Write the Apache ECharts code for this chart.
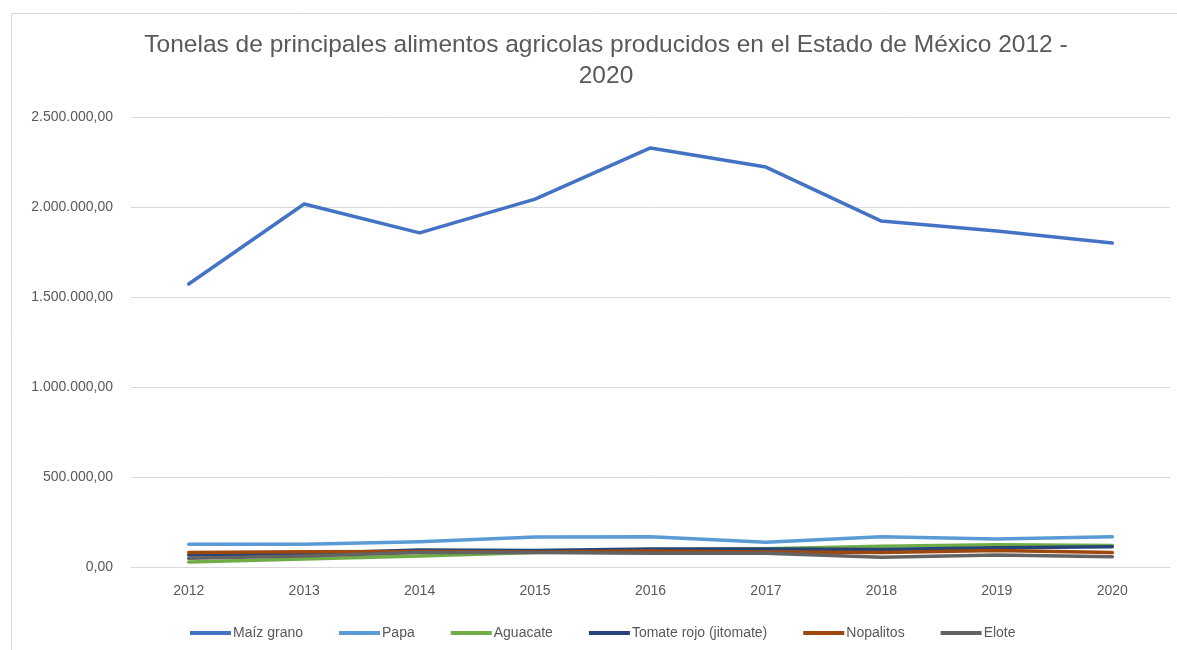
<!DOCTYPE html>
<html>
<head>
<meta charset="utf-8">
<script src="https://cdn.jsdelivr.net/npm/echarts@6/dist/echarts.min.js"></script>
<style>
html,body{margin:0;padding:0;background:#fff;}
#chart{width:1177px;height:650px;}
</style>
</head>
<body>
<div id="chart"></div>
<script>
const years = ['2012','2013','2014','2015','2016','2017','2018','2019','2020'];
const maizGrano = [1572000, 2017000, 1856000, 2044000, 2328000, 2222000, 1922000, 1867000, 1800000];
const papa      = [127000, 127000, 140000, 167000, 168000, 137000, 168000, 156000, 168000];
const aguacate  = [28000, 44000, 61000, 80000, 95000, 102000, 115000, 124000, 120000];
const tomate    = [67000, 75000, 94000, 91000, 100000, 100000, 97000, 107000, 113000];
const nopalitos = [81000, 85000, 86000, 84000, 89000, 84000, 80000, 91000, 80000];
const elote     = [48000, 61000, 81000, 81000, 76000, 76000, 54000, 67000, 57000];
const seriesNames = ['Maíz grano','Papa','Aguacate','Tomate rojo (jitomate)','Nopalitos','Elote'];
const seriesColors = ['#4472C4','#5B9BD5','#70AD47','#264478','#9E480E','#636363'];
const seriesData = [maizGrano, papa, aguacate, tomate, nopalitos, elote];
const yTicks = [0, 500000, 1000000, 1500000, 2000000, 2500000];

function fmt(v){
  const s = Math.round(v).toString().replace(/\B(?=(\d{3})+(?!\d))/g, '.');
  return s + ',00';
}

const chart = echarts.init(document.getElementById('chart'));
chart.setOption({
  backgroundColor:'#ffffff',
  animation:false,
  graphic:[{
    type:'rect', shape:{x:11.5, y:13.5, width:1300, height:800},
    style:{fill:'none', stroke:'#d9d9d9', lineWidth:1}, silent:true
  }],
  title:{
    text:'Tonelas de principales alimentos agricolas producidos en el Estado de México 2012 -\n2020',
    left:601, top:25, textAlign:'center',
    textStyle:{fontFamily:'Liberation Sans', fontSize:24.5, fontWeight:'normal', color:'#595959', lineHeight:31}
  },
  legend:{
    left:185, top:621,
    itemWidth:41, itemHeight:4, itemGap:36,
    icon:'rect',
    textStyle:{fontFamily:'Liberation Sans', fontSize:14, color:'#595959', padding:[0,0,0,-3]},
    data:seriesNames
  },
  grid:{left:131, right:7, top:117, bottom:83, containLabel:false},
  xAxis:{
    type:'category', data:years, boundaryGap:true,
    axisLine:{lineStyle:{color:'#d9d9d9', width:1}},
    axisTick:{show:false},
    axisLabel:{fontFamily:'Liberation Sans', fontSize:14, color:'#595959', margin:17}
  },
  yAxis:{
    type:'value', min:0, max:2500000, interval:500000,
    axisLine:{show:false}, axisTick:{show:false},
    splitLine:{lineStyle:{color:'#d9d9d9', width:1}},
    axisLabel:{fontFamily:'Liberation Sans', fontSize:14, color:'#595959', margin:18,
      formatter:function(v){ return fmt(v); }}
  },
  series: seriesNames.map((n,i)=>({
    name:n, type:'line', data:seriesData[i], symbol:'none',
    lineStyle:{color:seriesColors[i], width:3.5, cap:'round', join:'round'},
    itemStyle:{color:seriesColors[i]}
  }))
});
</script>
</body>
</html>
